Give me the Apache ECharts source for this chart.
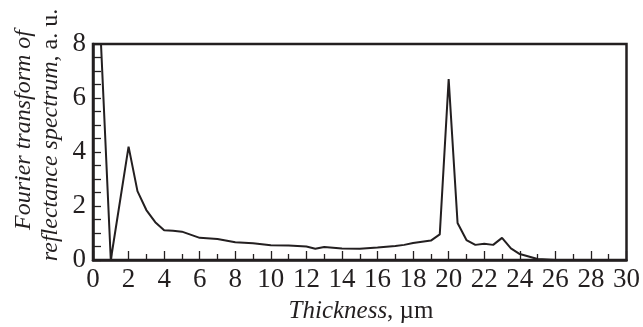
<!DOCTYPE html>
<html>
<head>
<meta charset="utf-8">
<script src="https://cdn.jsdelivr.net/npm/echarts@6/dist/echarts.min.js"></script>
<style>html,body{margin:0;padding:0;background:#fff}#c{width:643px;height:327px}</style>
</head>
<body>
<div id="c"></div>
<script>
const thickness = [0.45, 1, 2, 2.5, 3, 3.5, 4, 4.5, 5, 6, 7, 8, 9, 10, 11, 12, 12.5, 13, 14, 15, 16, 17, 17.5, 18, 19, 19.5, 20, 20.5, 21, 21.5, 22, 22.5, 23, 23.5, 24, 25, 26, 27, 28, 29, 30];
const amplitude = [8.0, 0, 4.2, 2.55, 1.85, 1.4, 1.1, 1.08, 1.05, 0.82, 0.78, 0.66, 0.62, 0.55, 0.54, 0.5, 0.42, 0.48, 0.43, 0.42, 0.46, 0.52, 0.56, 0.63, 0.72, 0.95, 6.7, 1.37, 0.74, 0.56, 0.6, 0.56, 0.82, 0.43, 0.22, 0.04, 0, 0, 0, 0, 0];
const xTitle = 'Thickness';
const xUnit = ', µm';
const yTitle1 = 'Fourier transform of';
const yTitle2 = 'reflectance spectrum';
const yUnit = ', a. u.';

const font = '"Liberation Serif", "Times New Roman", Times, serif';
const ink = '#231f20';
const chart = echarts.init(document.getElementById('c'), null, {renderer: 'canvas'});
chart.setOption({
  animation: false,
  backgroundColor: '#fff',
  grid: {left: 93, right: 14, top: 44, bottom: 67, show: true, borderColor: ink, borderWidth: 2.5, backgroundColor: 'transparent'},
  xAxis: {
    type: 'value', min: 0, max: 30, interval: 2,
    axisLine: {show: true, lineStyle: {color: ink, width: 2.5}},
    axisTick: {show: true, inside: true, length: 9, lineStyle: {color: ink, width: 1.3}},
    minorTick: {show: true, splitNumber: 2, length: 6, lineStyle: {color: ink, width: 1.3}},
    splitLine: {show: false},
    axisLabel: {color: ink, fontFamily: font, fontSize: 27, margin: 6}
  },
  yAxis: {
    type: 'value', min: 0, max: 8, interval: 2,
    axisLine: {show: true, lineStyle: {color: ink, width: 2.5}},
    axisTick: {show: true, inside: true, length: 8, lineStyle: {color: ink, width: 1.3}},
    minorTick: {show: true, splitNumber: 4, length: 8, lineStyle: {color: ink, width: 1.3}},
    splitLine: {show: false},
    axisLabel: {color: ink, fontFamily: font, fontSize: 27, margin: 7}
  },
  graphic: [
    {type: 'text', x: 24, y: 130, rotation: Math.PI / 2,
     style: {text: yTitle1, fontFamily: font, fontStyle: 'italic', fontSize: 24, fill: ink, align: 'center', verticalAlign: 'middle'}},
    {type: 'text', x: 51, y: 135, rotation: Math.PI / 2,
     style: {text: '{i|' + yTitle2 + '}{n|' + yUnit + '}', align: 'center', verticalAlign: 'middle',
       rich: {i: {fontFamily: font, fontStyle: 'italic', fontSize: 24, fill: ink}, n: {fontFamily: font, fontSize: 24, fill: ink}}}},
    {type: 'text', x: 361, y: 311,
     style: {text: '{i|' + xTitle + '}{n|' + xUnit + '}', align: 'center', verticalAlign: 'middle',
       rich: {i: {fontFamily: font, fontStyle: 'italic', fontSize: 25, fill: ink}, n: {fontFamily: font, fontSize: 25, fill: ink}}}}
  ],
  series: [{
    type: 'line', data: thickness.map((t, i) => [t, amplitude[i]]),
    showSymbol: false, clip: true,
    lineStyle: {color: ink, width: 2}
  }]
});
</script>
</body>
</html>
